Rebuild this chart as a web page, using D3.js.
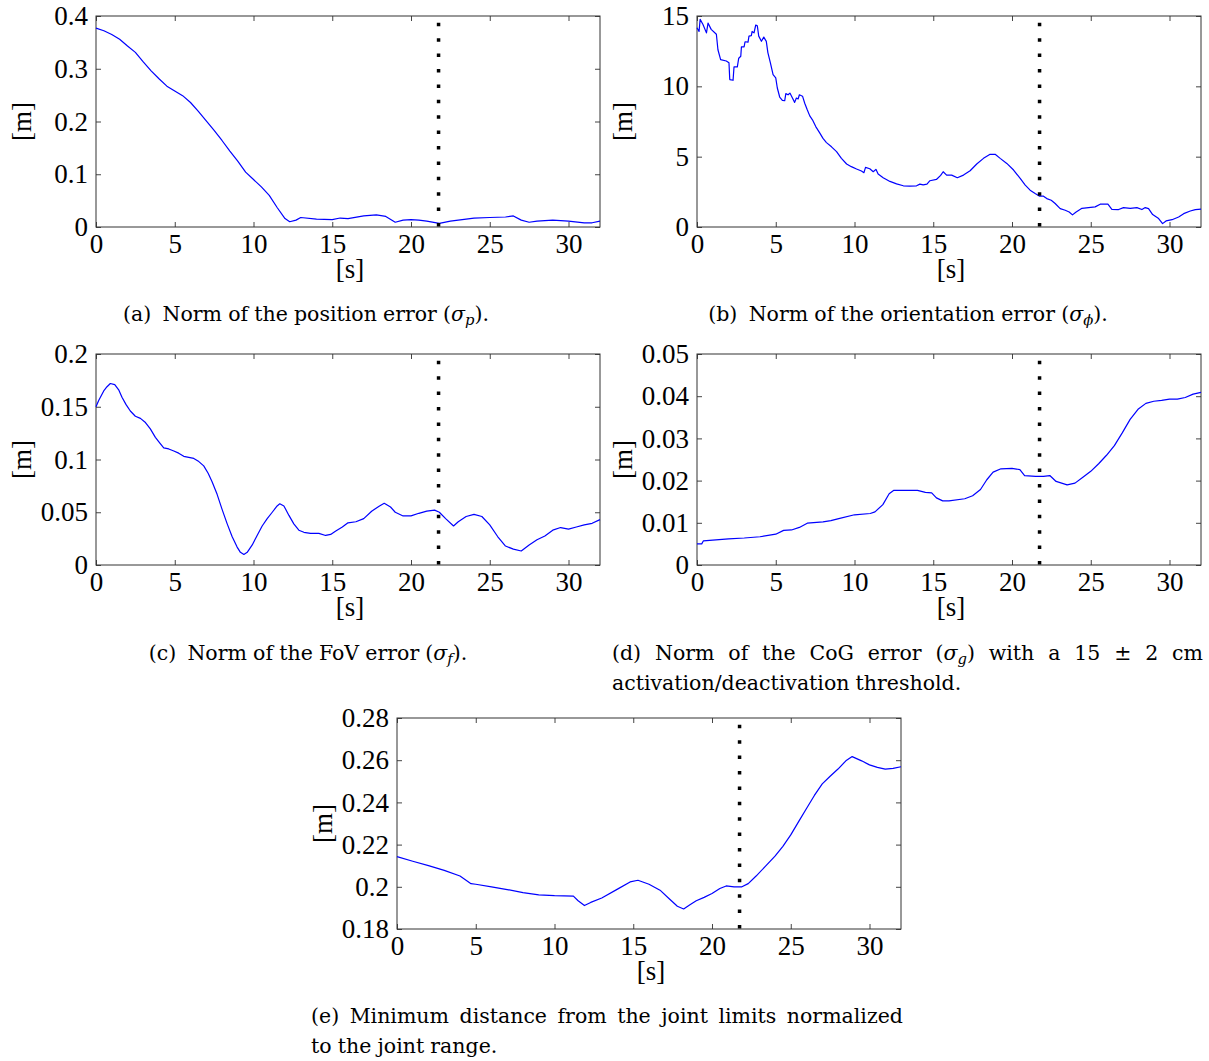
<!DOCTYPE html>
<html>
<head>
<meta charset="utf-8">
<script src="https://cdn.jsdelivr.net/npm/d3@7"></script>
<style>
  body { margin: 0; background: #fff; }
  svg { display: block; }
</style>
</head>
<body>
<div id="fig"></div>
<script>
// ---- Données ----
const xTicks = [0, 5, 10, 15, 20, 25, 30];
const switchTime = 21.75;

// (a) erreur de position
const tPos = [0, 0.5, 1, 1.5, 2, 2.5, 3, 3.5, 4, 4.5, 5, 5.5, 6, 6.5, 7, 7.5, 8, 8.5, 9, 9.5, 10, 10.5, 11, 11.5, 12, 12.3, 12.7, 13, 14, 15, 15.5, 16, 17, 17.8, 18.4, 19, 19.5, 20, 20.5, 21, 21.8, 22.5, 23, 24, 25, 26, 26.5, 27, 27.5, 28, 29, 30, 31, 31.5, 32];
const posErr = [0.377, 0.372, 0.365, 0.356, 0.343, 0.331, 0.313, 0.296, 0.281, 0.267, 0.258, 0.249, 0.236, 0.219, 0.201, 0.183, 0.164, 0.144, 0.125, 0.104, 0.090, 0.076, 0.060, 0.037, 0.016, 0.010, 0.013, 0.018, 0.015, 0.014, 0.017, 0.016, 0.021, 0.023, 0.020, 0.009, 0.013, 0.014, 0.013, 0.011, 0.007, 0.011, 0.013, 0.017, 0.018, 0.019, 0.021, 0.013, 0.009, 0.011, 0.013, 0.011, 0.008, 0.008, 0.011];
const posTicks = [0, 0.1, 0.2, 0.3, 0.4];
const posLabels = ["0", "0.1", "0.2", "0.3", "0.4"];

// (b) erreur d'orientation
const tOri = [0, 0.13, 0.2, 0.38, 0.6, 0.7, 0.9, 1.23, 1.33, 1.5, 1.86, 2.03, 2.08, 2.29, 2.35, 2.56, 2.65, 2.78, 2.82, 2.99, 3.05, 3.24, 3.3, 3.45, 3.5, 3.62, 3.73, 3.83, 3.92, 4.09, 4.24, 4.4, 4.5, 4.66, 4.83, 5.0, 5.1, 5.25, 5.42, 5.57, 5.64, 5.78, 5.9, 6.06, 6.2, 6.31, 6.42, 6.5, 6.7, 6.84, 7.0, 7.16, 7.33, 7.54, 7.8, 8.0, 8.22, 8.54, 8.86, 9.17, 9.5, 9.8, 10.13, 10.44, 10.6, 10.7, 10.97, 11.19, 11.36, 11.5, 11.82, 12.25, 12.67, 13.1, 13.5, 13.94, 14.15, 14.36, 14.6, 14.79, 15.2, 15.47, 15.63, 15.85, 16.17, 16.53, 16.92, 17.34, 17.76, 18.19, 18.61, 18.93, 19.25, 19.67, 20.1, 20.52, 20.84, 21.15, 21.47, 21.75, 22.0, 22.21, 22.49, 22.74, 23.06, 23.38, 23.63, 23.84, 24.05, 24.44, 24.86, 25.28, 25.6, 26.09, 26.34, 26.77, 27.08, 27.51, 27.93, 28.25, 28.46, 28.67, 28.93, 29.31, 29.56, 29.78, 30.16, 30.58, 30.9, 31.32, 31.64, 32];
const oriErr = [14.17, 13.9, 14.76, 14.4, 13.8, 14.5, 14.05, 13.7, 12.6, 11.9, 11.8, 11.67, 10.48, 10.43, 11.38, 11.38, 12.0, 12.14, 12.8, 12.8, 13.17, 13.14, 13.57, 13.6, 13.9, 13.8, 14.36, 14.3, 13.57, 13.2, 13.5, 13.2, 12.4, 11.67, 10.83, 10.6, 9.88, 9.24, 9.0, 8.98, 9.48, 9.4, 9.52, 9.17, 8.86, 9.17, 9.1, 9.4, 9.3, 8.8, 8.33, 7.9, 7.62, 7.14, 6.67, 6.3, 6.0, 5.7, 5.36, 4.88, 4.48, 4.29, 4.12, 3.98, 3.86, 4.24, 4.14, 3.93, 4.1, 3.76, 3.5, 3.24, 3.07, 2.93, 2.9, 2.93, 3.05, 3.0, 3.05, 3.29, 3.38, 3.67, 3.93, 3.69, 3.69, 3.5, 3.69, 4.0, 4.48, 4.88, 5.17, 5.17, 4.88, 4.52, 4.05, 3.45, 2.98, 2.62, 2.38, 2.19, 2.19, 2.02, 1.9, 1.67, 1.31, 1.19, 1.07, 0.86, 1.05, 1.33, 1.38, 1.43, 1.62, 1.62, 1.26, 1.24, 1.38, 1.33, 1.38, 1.24, 1.38, 1.31, 0.88, 0.6, 0.24, 0.43, 0.52, 0.71, 0.95, 1.14, 1.24, 1.27];
const oriTicks = [0, 5, 10, 15];
const oriLabels = ["0", "5", "10", "15"];

// (c) erreur FoV
const tFov = [0, 0.17, 0.49, 0.7, 0.91, 1.19, 1.44, 1.65, 1.91, 2.18, 2.5, 2.82, 3.14, 3.45, 3.77, 4.03, 4.3, 4.62, 4.94, 5.25, 5.57, 5.89, 6.21, 6.53, 6.84, 7.12, 7.37, 7.69, 8.0, 8.33, 8.64, 8.96, 9.17, 9.39, 9.6, 9.92, 10.23, 10.55, 10.87, 11.19, 11.5, 11.67, 11.93, 12.25, 12.56, 12.88, 13.2, 13.62, 14.15, 14.58, 14.9, 15.2, 15.64, 16, 16.5, 17, 17.5, 18, 18.3, 18.7, 19, 19.5, 20, 20.5, 21, 21.5, 21.8, 22.2, 22.7, 23, 23.5, 24, 24.5, 25, 25.5, 26, 26.5, 27, 27.5, 28, 28.5, 29, 29.5, 30, 30.5, 31, 31.5, 32];
const fovErr = [0.150, 0.156, 0.165, 0.169, 0.172, 0.171, 0.166, 0.159, 0.152, 0.146, 0.141, 0.139, 0.135, 0.129, 0.121, 0.116, 0.111, 0.110, 0.108, 0.106, 0.103, 0.102, 0.101, 0.098, 0.094, 0.087, 0.079, 0.067, 0.053, 0.039, 0.027, 0.017, 0.012, 0.010, 0.012, 0.019, 0.028, 0.037, 0.044, 0.050, 0.056, 0.058, 0.056, 0.047, 0.039, 0.033, 0.031, 0.030, 0.030, 0.028, 0.029, 0.032, 0.036, 0.040, 0.041, 0.044, 0.051, 0.056, 0.0585, 0.055, 0.050, 0.0465, 0.0465, 0.049, 0.051, 0.052, 0.050, 0.044, 0.037, 0.041, 0.046, 0.048, 0.046, 0.038, 0.027, 0.018, 0.015, 0.0133, 0.019, 0.024, 0.0275, 0.033, 0.0355, 0.034, 0.036, 0.038, 0.0395, 0.043];
const fovTicks = [0, 0.05, 0.1, 0.15, 0.2];
const fovLabels = ["0", "0.05", "0.1", "0.15", "0.2"];

// (d) erreur CoG
const tCog = [0, 0.3, 0.4, 1, 2, 3, 4, 5, 5.5, 6, 6.5, 7, 8, 8.5, 9, 10, 11, 11.3, 11.8, 12.2, 12.5, 13, 14, 14.5, 14.9, 15.2, 15.6, 16, 17, 17.5, 18, 18.4, 18.8, 19.3, 20, 20.5, 20.8, 21.5, 22, 22.4, 22.8, 23.5, 24, 24.5, 25, 25.5, 26, 26.5, 27, 27.5, 28, 28.5, 29, 29.5, 30, 30.5, 31, 31.5, 32];
const cogErr = [0.0050, 0.0050, 0.0057, 0.0059, 0.0062, 0.0064, 0.0067, 0.0073, 0.0082, 0.0083, 0.0089, 0.0099, 0.0102, 0.0105, 0.0110, 0.0119, 0.0122, 0.0126, 0.0143, 0.0169, 0.0177, 0.0177, 0.0177, 0.0172, 0.0171, 0.0159, 0.0152, 0.0152, 0.0157, 0.0164, 0.0179, 0.0202, 0.0220, 0.0228, 0.0229, 0.0226, 0.0212, 0.0210, 0.0210, 0.0212, 0.0198, 0.0190, 0.0194, 0.0208, 0.0222, 0.0240, 0.0260, 0.0283, 0.0313, 0.0345, 0.0369, 0.0383, 0.0388, 0.0390, 0.0393, 0.0393, 0.0397, 0.0405, 0.0409];
const cogTicks = [0, 0.01, 0.02, 0.03, 0.04, 0.05];
const cogLabels = ["0", "0.01", "0.02", "0.03", "0.04", "0.05"];

// (e) distance minimale aux butées
const tJnt = [0, 1, 2, 3, 4, 4.7, 5, 6, 7, 8, 9, 10, 11.2, 11.5, 11.9, 12.3, 13, 14, 14.8, 15.3, 16, 16.7, 17.3, 17.8, 18.2, 18.6, 19, 19.5, 20, 20.5, 20.9, 21.4, 21.9, 22.3, 22.8, 23.4, 24, 24.5, 25, 25.5, 26, 26.5, 27, 27.5, 28, 28.5, 28.9, 29.5, 30, 30.5, 31, 31.5, 32];
const jntDist = [0.2143, 0.2121, 0.2100, 0.2078, 0.2051, 0.2015, 0.2012, 0.2000, 0.1987, 0.1972, 0.1962, 0.1958, 0.1956, 0.1934, 0.1911, 0.1926, 0.1947, 0.1989, 0.2023, 0.2031, 0.2012, 0.1984, 0.1942, 0.1908, 0.1895, 0.1915, 0.1934, 0.1950, 0.1968, 0.1992, 0.2004, 0.2000, 0.2000, 0.2015, 0.2051, 0.2098, 0.2145, 0.2192, 0.2246, 0.2309, 0.2371, 0.2433, 0.2488, 0.2524, 0.2558, 0.2597, 0.2617, 0.2597, 0.2578, 0.2566, 0.2558, 0.2561, 0.2569];
const jntTicks = [0.18, 0.2, 0.22, 0.24, 0.26, 0.28];
const jntLabels = ["0.18", "0.2", "0.22", "0.24", "0.26", "0.28"];

// Légendes (σ_x = sigma indicé)
const capA = [["(a)", "Norm", "of", "the", "position", "error", "(σ_p)."]];
const capB = [["(b)", "Norm", "of", "the", "orientation", "error", "(σ_ϕ)."]];
const capC = [["(c)", "Norm", "of", "the", "FoV", "error", "(σ_f)."]];
const capD = [["(d)", "Norm", "of", "the", "CoG", "error", "(σ_g)", "with", "a", "15", "±", "2", "cm"],
              ["activation/deactivation", "threshold."]];
const capE = [["(e)", "Minimum", "distance", "from", "the", "joint", "limits", "normalized"],
              ["to", "the", "joint", "range."]];

// ---- Mise en page ----
const W = 1209, H = 1061;
const PW = 504, PH = 211;
const FONT = "'Liberation Serif', 'Times New Roman', serif";
const CAP_FONT = "'DejaVu Serif', serif";
const TICK_FS = 27;
const CAP_FS = 20.5;

const svg = d3.select("#fig").append("svg")
    .attr("width", W)
    .attr("height", H)
    .attr("viewBox", `0 0 ${W} ${H}`);

const panels = [
    { left: 96,  top: 16,  t: tPos, v: posErr, domain: [0, 0.4],   ticks: posTicks, labels: posLabels },
    { left: 697, top: 16,  t: tOri, v: oriErr, domain: [0, 15],    ticks: oriTicks, labels: oriLabels },
    { left: 96,  top: 354, t: tFov, v: fovErr, domain: [0, 0.2],   ticks: fovTicks, labels: fovLabels },
    { left: 697, top: 354, t: tCog, v: cogErr, domain: [0, 0.05],  ticks: cogTicks, labels: cogLabels },
    { left: 397, top: 718, t: tJnt, v: jntDist, domain: [0.18, 0.28], ticks: jntTicks, labels: jntLabels }
];

function drawPanel(p) {
    const x = d3.scaleLinear().domain([0, 32]).range([p.left, p.left + PW]);
    const y = d3.scaleLinear().domain(p.domain).range([p.top + PH, p.top]);
    const g = svg.append("g");

    const styleAxis = sel => {
        sel.select(".domain").remove();
        sel.selectAll(".tick line").attr("stroke", "#444").attr("stroke-width", 1);
        sel.selectAll(".tick text")
            .attr("font-family", FONT)
            .attr("font-size", TICK_FS)
            .attr("fill", "#000");
    };

    // axes (graduations vers l'intérieur sur les 4 côtés)
    g.append("g")
        .attr("transform", `translate(0,${p.top + PH})`)
        .call(d3.axisBottom(x).tickValues(xTicks).tickFormat(d3.format("d")).tickSize(-5).tickPadding(7))
        .call(styleAxis);
    g.append("g")
        .attr("transform", `translate(0,${p.top})`)
        .call(d3.axisTop(x).tickValues(xTicks).tickFormat("").tickSize(-5))
        .call(styleAxis);
    g.append("g")
        .attr("transform", `translate(${p.left},0)`)
        .call(d3.axisLeft(y).tickValues(p.ticks).tickFormat((d, i) => p.labels[i]).tickSize(-5).tickPadding(8))
        .call(styleAxis);
    g.append("g")
        .attr("transform", `translate(${p.left + PW},0)`)
        .call(d3.axisRight(y).tickValues(p.ticks).tickFormat("").tickSize(-5))
        .call(styleAxis);

    // cadre
    g.append("rect")
        .attr("x", p.left).attr("y", p.top)
        .attr("width", PW).attr("height", PH)
        .attr("fill", "none")
        .attr("stroke", "#333")
        .attr("stroke-width", 1);

    // courbe
    const pts = p.t.map((t, i) => [t, p.v[i]]);
    g.append("path")
        .datum(pts)
        .attr("fill", "none")
        .attr("stroke", "#0000ff")
        .attr("stroke-width", 1.2)
        .attr("stroke-linejoin", "round")
        .attr("d", d3.line().x(d => x(d[0])).y(d => y(d[1])));

    // instant de commutation (pointillé)
    g.append("line")
        .attr("x1", x(switchTime)).attr("x2", x(switchTime))
        .attr("y1", p.top + PH - 0.5).attr("y2", p.top + 6)
        .attr("stroke", "#000")
        .attr("stroke-width", 3.5)
        .attr("stroke-dasharray", "3.5 11.9");

    // titres d'axes
    g.append("text")
        .attr("transform", `translate(${p.left - 74},${p.top + PH / 2}) rotate(-90)`)
        .attr("text-anchor", "middle")
        .attr("dominant-baseline", "central")
        .attr("font-family", FONT)
        .attr("font-size", TICK_FS)
        .text("[m]");
    g.append("text")
        .attr("x", p.left + PW / 2 + 2)
        .attr("y", p.top + PH + 51)
        .attr("text-anchor", "middle")
        .attr("font-family", FONT)
        .attr("font-size", TICK_FS)
        .text("[s]");
}

panels.forEach(drawPanel);

// ---- Légendes ----
function addWord(parent, w) {
    const t = parent.append("text")
        .attr("font-family", CAP_FONT)
        .attr("font-size", CAP_FS)
        .attr("fill", "#000");
    const m = w.match(/^(.*)σ_(.)(.*)$/);
    if (!m) {
        t.text(w);
        return t;
    }
    if (m[1]) t.append("tspan").text(m[1]);
    t.append("tspan").attr("font-style", "italic").text("σ");
    t.append("tspan").attr("font-style", "italic").attr("font-size", CAP_FS * 0.72)
        .attr("dy", 4).text(m[2]);
    t.append("tspan").attr("dy", -4).text(m[3]);
    return t;
}

function caption(lines, opts) {
    const g = svg.append("g");
    const lh = opts.lh || 30;
    lines.forEach((words, li) => {
        const y = opts.y + li * lh;
        const els = words.map(w => addWord(g, w).attr("y", y));
        const widths = els.map(e => e.node().getComputedTextLength());
        const sum = d3.sum(widths);
        const justify = opts.justify && li < lines.length - 1;
        const isLabel = w => /^\([a-e]\)$/.test(w);
        const extra = words.map(w => (!justify && isLabel(w)) ? CAP_FS * 0.25 : 0);
        let gap = CAP_FS * 0.3;
        let x0;
        if (justify) {
            gap = (opts.width - sum) / (words.length - 1);
            x0 = opts.x;
        } else if (opts.justify) {
            x0 = opts.x;
        } else {
            x0 = opts.cx - (sum + gap * (words.length - 1) + d3.sum(extra)) / 2;
        }
        let cur = x0;
        els.forEach((e, i) => {
            e.attr("x", cur);
            cur += widths[i] + gap + extra[i];
        });
    });
}

caption(capA, { cx: 306, y: 321 });
caption(capB, { cx: 908, y: 321 });
caption(capC, { cx: 308, y: 660 });
caption(capD, { x: 612, width: 591, y: 660, justify: true });
caption(capE, { x: 311, width: 592, y: 1023, justify: true });
</script>
</body>
</html>
